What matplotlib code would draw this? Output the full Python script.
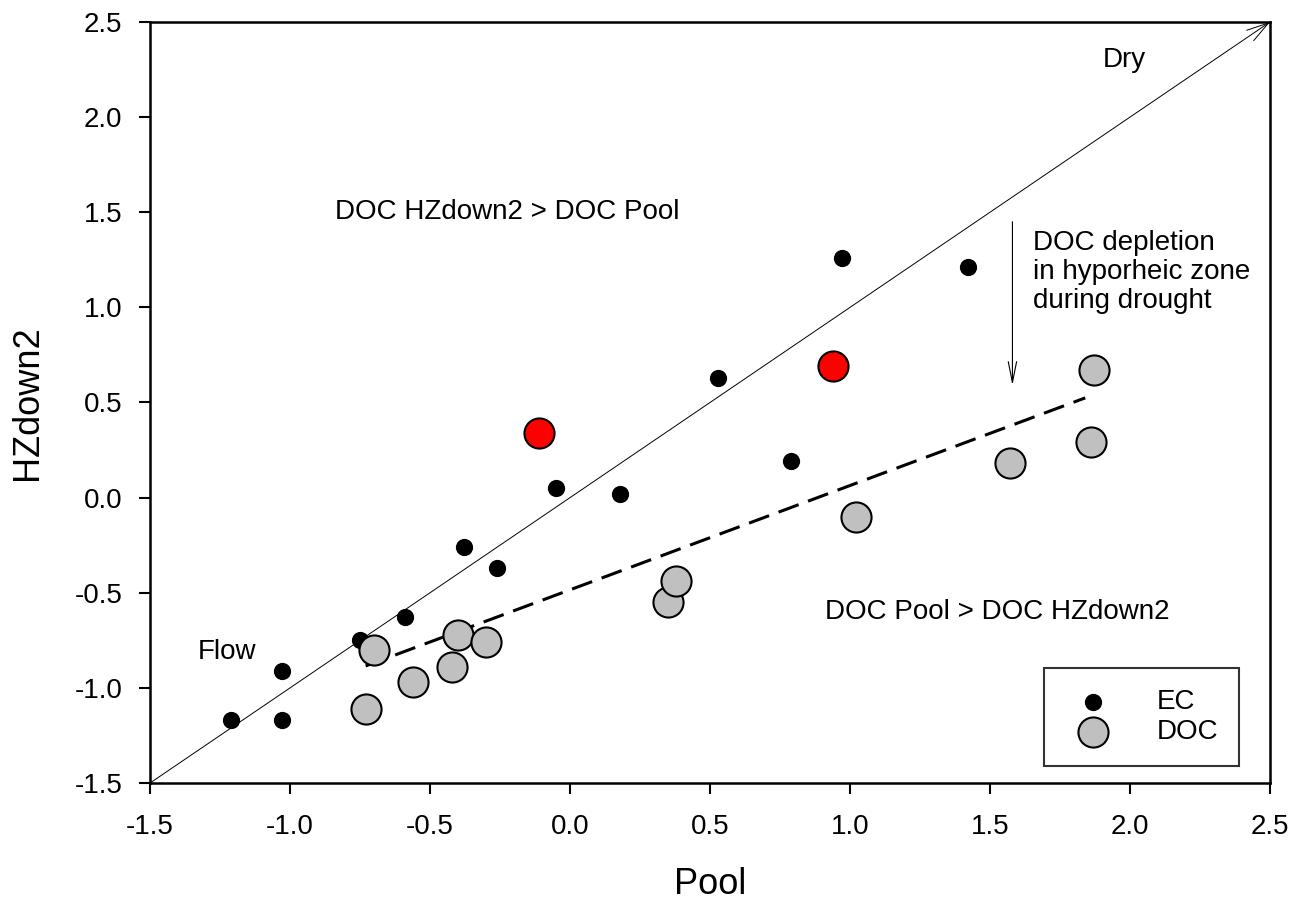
import numpy as np
import matplotlib
matplotlib.use('Agg')
import matplotlib.pyplot as plt

plt.rcParams['font.family'] = ['Liberation Sans', 'DejaVu Sans']

################## data ##################
# EC (small black dots)
ec_pool = [-1.21, -1.03, -1.03, -0.75, -0.59, -0.38, -0.26, -0.05, 0.18, 0.53, 0.79, 0.97, 1.42]
ec_hz = [-1.17, -1.17, -0.91, -0.75, -0.63, -0.26, -0.37, 0.05, 0.02, 0.63, 0.19, 1.26, 1.21]

# DOC (grey circles)
doc_pool = [-0.70, -0.73, -0.56, -0.42, -0.40, -0.30, 0.35, 0.38, 1.02, 1.57, 1.86, 1.87]
doc_hz = [-0.80, -1.11, -0.97, -0.89, -0.72, -0.76, -0.55, -0.44, -0.10, 0.18, 0.29, 0.67]

# DOC points highlighted in red
red_pool = [-0.11, 0.94]
red_hz = [0.34, 0.69]

################## linear fit of all DOC points ##################
fx = np.array(doc_pool + red_pool)
fy = np.array(doc_hz + red_hz)
fitparameter = np.polyfit(fx, fy, 1)
xfit = np.array([fx.min(), fx.max() - 0.03])
fit = fitparameter[0] * xfit + fitparameter[1]

fig = plt.figure(figsize=(12.97, 9.0), dpi=100)
ax = fig.add_axes([0.1157, 0.13, 0.9792 - 0.1157, 0.9756 - 0.13])

# 1:1 line with arrow to the top right corner
ax.annotate('', xy=(2.5, 2.5), xytext=(-1.5, -1.5),
            arrowprops=dict(arrowstyle='->,head_length=1.6,head_width=0.45', lw=0.7, color='black',
                            shrinkA=0, shrinkB=0))

ax.plot(xfit, fit, color='black', lw=2.2, dashes=(7, 3.3), zorder=2)

ax.scatter(ec_pool, ec_hz, s=130, color='black', zorder=3, label='EC')
ax.scatter(doc_pool, doc_hz, s=470, color='#c0c0c0', edgecolor='black', linewidth=1.5, zorder=4, label='DOC')
ax.scatter(red_pool, red_hz, s=470, color='red', edgecolor='black', linewidth=1.5, zorder=4)

# depletion arrow
ax.annotate('', xy=(1.58, 0.59), xytext=(1.58, 1.45),
            arrowprops=dict(arrowstyle='->,head_length=1.5,head_width=0.3', lw=0.8, color='black',
                            shrinkA=0, shrinkB=0))

fs = 20
ax.text(1.98, 2.30, 'Dry', fontsize=fs, ha='center', va='center')
ax.text(-0.84, 1.50, 'DOC HZdown2 > DOC Pool', fontsize=fs, ha='left', va='center')
ax.text(1.655, 1.185, 'DOC depletion\nin hyporheic zone\nduring drought', fontsize=fs, ha='left', va='center',
        linespacing=1.15)
ax.text(0.91, -0.60, 'DOC Pool > DOC HZdown2', fontsize=fs, ha='left', va='center')
ax.text(-1.225, -0.81, 'Flow', fontsize=fs, ha='center', va='center')

ax.set_xlim(-1.5, 2.5)
ax.set_ylim(-1.5, 2.5)
ax.set_xticks(np.arange(-1.5, 2.51, 0.5))
ax.set_yticks(np.arange(-1.5, 2.51, 0.5))
ax.xaxis.set_major_formatter(matplotlib.ticker.FormatStrFormatter('%.1f'))
ax.yaxis.set_major_formatter(matplotlib.ticker.FormatStrFormatter('%.1f'))
ax.tick_params(direction='out', length=8, width=1.5, labelsize=fs)
ax.tick_params(axis='x', pad=14)
ax.tick_params(axis='y', pad=12)
for sp in ax.spines.values():
    sp.set_linewidth(1.8)

ax.set_xlabel('Pool', fontsize=26, labelpad=20)
ax.set_ylabel('HZdown2', fontsize=26, labelpad=21)

leg = ax.legend(loc='lower right', bbox_to_anchor=(0.985, 0.004), fontsize=fs, frameon=True, fancybox=False,
                edgecolor='black', borderpad=0.75, handletextpad=1.3, labelspacing=0.15, borderaxespad=0.5)
leg.get_frame().set_linewidth(1.5)

fig.savefig('out.png', dpi=100)
